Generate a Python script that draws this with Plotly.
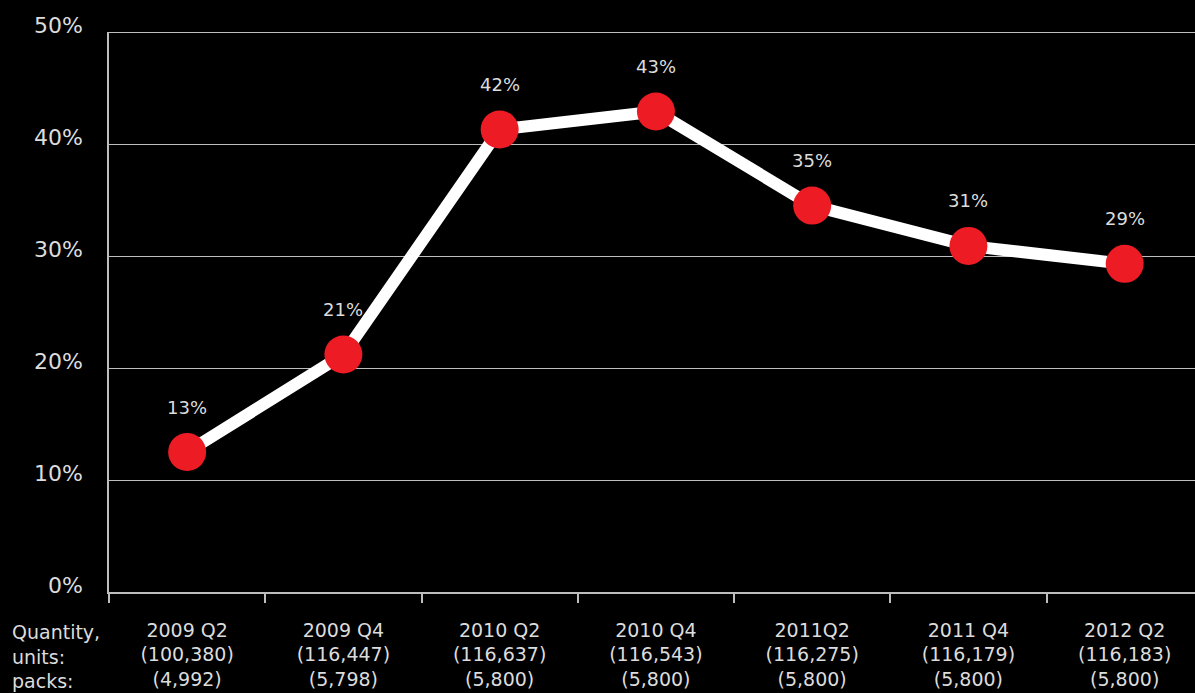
import plotly.graph_objects as go

categories = ["2009 Q2", "2009 Q4", "2010 Q2", "2010 Q4", "2011Q2", "2011 Q4", "2012 Q2"]
units = ["(100,380)", "(116,447)", "(116,637)", "(116,543)", "(116,275)", "(116,179)", "(116,183)"]
packs = ["(4,992)", "(5,798)", "(5,800)", "(5,800)", "(5,800)", "(5,800)", "(5,800)"]
values = [12.5, 21.2, 41.3, 42.9, 34.5, 30.9, 29.3]
labels = ["13%", "21%", "42%", "43%", "35%", "31%", "29%"]
y_ticks = [0, 10, 20, 30, 40, 50]
y_ticktext = ["0%", "10%", "20%", "30%", "40%", "50%"]

FONT = "DejaVu Sans"
TXT = "#dcdcdc"

fig = go.Figure()
fig.add_trace(go.Scatter(
    x=categories, y=values, mode="lines+markers",
    line=dict(color="white", width=12),
    marker=dict(color="#ed1c24", size=38, line=dict(width=0)),
    hoverinfo="skip", showlegend=False,
))
for c, v, lab in zip(categories, values, labels):
    fig.add_annotation(x=c, y=v, text=lab, showarrow=False, yshift=45,
                       font=dict(family=FONT, size=18, color=TXT))

ticktext = [f"{c}<br>{u}<br>{p}" for c, u, p in zip(categories, units, packs)]
fig.update_xaxes(
    type="category", categoryorder="array", categoryarray=categories,
    range=[-0.5, 6.45], tickmode="array", tickvals=categories, ticktext=ticktext,
    tickson="boundaries", ticks="outside", ticklen=9, tickcolor="#bdbdbd", tickwidth=1.5,
    showline=True, linecolor="#bdbdbd", linewidth=1.5, showgrid=False, zeroline=False,
    ticklabelstandoff=20,
    tickfont=dict(family=FONT, size=19, color=TXT),
)
fig.update_yaxes(
    range=[0, 50], tickmode="array", tickvals=y_ticks, ticktext=y_ticktext,
    showgrid=True, gridcolor="#bdbdbd", gridwidth=1.2, zeroline=False,
    showline=True, linecolor="#bdbdbd", linewidth=1.5, ticks="",
    ticklabelstandoff=20, ticklabelshift=-7,
    tickfont=dict(family=FONT, size=22, color=TXT),
)
fig.add_shape(type="line", xref="paper", yref="y", x0=0, x1=1, y0=50, y1=50,
              line=dict(color="white", width=1.5))
fig.add_annotation(xref="paper", yref="paper", x=-0.0912, y=0, yshift=-27,
                   xanchor="left", yanchor="top", align="left", showarrow=False,
                   text="Quantity,<br>units:<br>packs:",
                   font=dict(family=FONT, size=19, color=TXT))
fig.update_layout(
    width=1195, height=693, paper_bgcolor="black", plot_bgcolor="black",
    margin=dict(l=109, r=0, t=32, b=101),
)
fig.write_html("out.html", config={"displayModeBar": False},
               post_script="document.body.style.margin='0';document.body.style.background='black';")
